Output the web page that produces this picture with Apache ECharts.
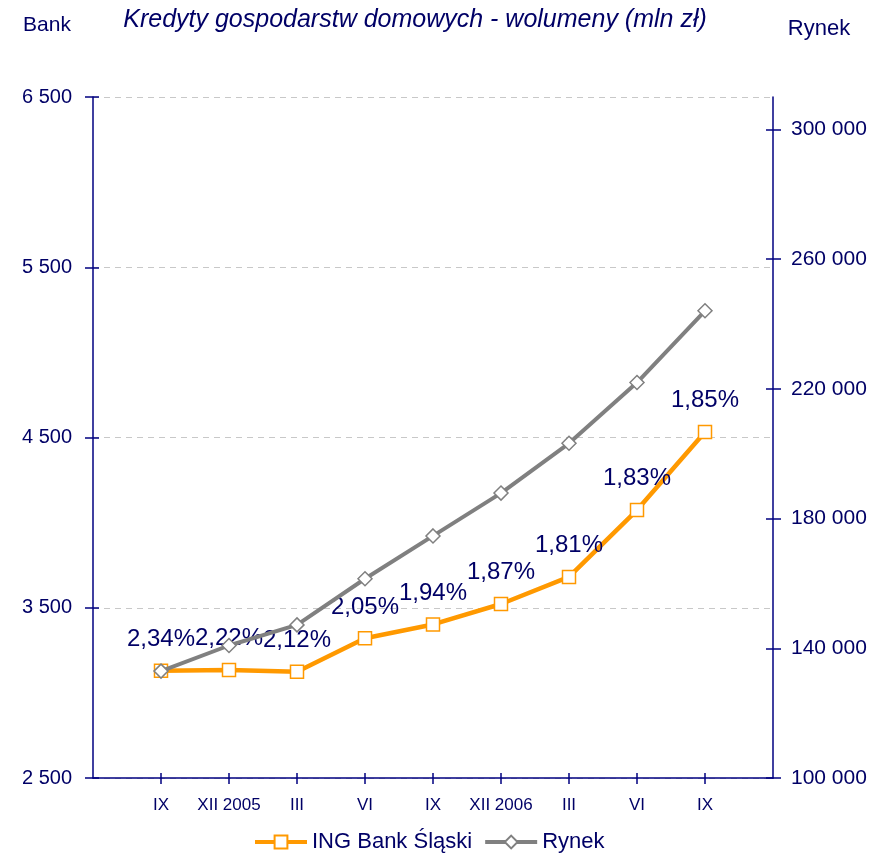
<!DOCTYPE html>
<html>
<head>
<meta charset="utf-8">
<script src="https://cdn.jsdelivr.net/npm/echarts@6/dist/echarts.min.js"></script>
<style>
  html, body { margin: 0; padding: 0; background: #ffffff; }
  #chart { width: 873px; height: 854px; }
</style>
</head>
<body>
<div id="chart"></div>
<script>
// Quarter labels; the blank ends leave half-step room at both axis edges
const periods = ['', 'IX', 'XII 2005', 'III', 'VI', 'IX', 'XII 2006', 'III', 'VI', 'IX', ''];
// Household loan volumes, mln zł
const bankVolume = [null, 3130, 3134, 3124, 3321, 3402, 3522, 3681, 4074, 4532, null];
const marketVolume = [null, 132960, 140860, 147210, 161440, 174650, 187860, 203220, 221960, 244080, null];
// Bank's market share, %
const bankShare = [null, 2.34, 2.22, 2.12, 2.05, 1.94, 1.87, 1.81, 1.83, 1.85, null];
// Axis tick values
const bankTicks = [2500, 3500, 4500, 5500, 6500];
const marketTicks = [100000, 140000, 180000, 220000, 260000, 300000];

const NAVY = '#000066';
const AXIS = '#000080';
const FONT = '"Liberation Sans", Arial, sans-serif';

const spaced = v => String(v).replace(/\B(?=(\d{3})+(?!\d))/g, ' ');
const pct = v => v.toFixed(2).replace('.', ',') + '%';
const isPeriod = (i, v) => v !== '';

const chart = echarts.init(document.getElementById('chart'), null, { renderer: 'canvas' });

const baseX = {
  type: 'category',
  position: 'bottom',
  data: periods,
  boundaryGap: false,
  axisLine: { show: true, lineStyle: { color: AXIS, width: 1.5 } },
  splitLine: { show: false }
};

chart.setOption({
  animation: false,
  backgroundColor: '#ffffff',
  textStyle: { fontFamily: FONT },
  grid: { left: 93, right: 100, top: 97, bottom: 76, containLabel: false },
  graphic: [
    { type: 'text', style: { x: 415, y: 20, text: 'Kredyty gospodarstw domowych - wolumeny (mln zł)',
      font: 'italic 25px ' + FONT, fill: NAVY, align: 'center', verticalAlign: 'middle' } },
    { type: 'text', style: { x: 47, y: 25, text: 'Bank', font: '21px ' + FONT, fill: NAVY,
      align: 'center', verticalAlign: 'middle' } },
    { type: 'text', style: { x: 819, y: 29, text: 'Rynek', font: '22px ' + FONT, fill: NAVY,
      align: 'center', verticalAlign: 'middle' } }
  ],
  legend: {
    top: 826,
    left: 248,
    itemWidth: 52,
    itemHeight: 16,
    itemGap: 11,
    lineStyle: { width: 4 },
    textStyle: { color: NAVY, fontSize: 22, fontFamily: FONT },
    data: ['ING Bank Śląski', 'Rynek']
  },
  xAxis: [
    Object.assign({}, baseX, {
      axisTick: { show: true, length: 6, interval: isPeriod, lineStyle: { color: AXIS, width: 1.5 } },
      axisLabel: { show: true, interval: isPeriod, color: NAVY, fontSize: 17, margin: 19, fontFamily: FONT }
    }),
    Object.assign({}, baseX, {
      axisLine: { show: false },
      axisTick: { show: true, inside: true, length: 5, interval: isPeriod, lineStyle: { color: AXIS, width: 1.5 } },
      axisLabel: { show: false }
    })
  ],
  yAxis: [
    {
      type: 'value', position: 'left', min: 2500, max: 6500, interval: 1000,
      axisLine: { show: true, lineStyle: { color: AXIS, width: 1.5 } },
      axisTick: { show: true, length: 8, lineStyle: { color: AXIS, width: 1.5 } },
      axisLabel: { color: NAVY, fontSize: 20, margin: 21, fontFamily: FONT,
        customValues: bankTicks, formatter: spaced },
      splitLine: { show: true, lineStyle: { color: '#c8c8c8', type: [6, 5], width: 1 } }
    },
    {
      type: 'value', position: 'right', min: 100000, max: 310000,
      axisLine: { show: true, lineStyle: { color: AXIS, width: 1.5 } },
      axisTick: { show: true, length: 8, customValues: marketTicks, lineStyle: { color: AXIS, width: 1.5 } },
      axisLabel: { color: NAVY, fontSize: 21, margin: 18, fontFamily: FONT,
        customValues: marketTicks, formatter: spaced },
      splitLine: { show: false }
    },
    {
      type: 'value', position: 'left', min: 2500, max: 6500, interval: 1000,
      axisLine: { show: false },
      axisTick: { show: true, inside: true, length: 6, lineStyle: { color: AXIS, width: 1.5 } },
      axisLabel: { show: false },
      splitLine: { show: false }
    },
    {
      type: 'value', position: 'right', min: 100000, max: 310000,
      axisLine: { show: false },
      axisTick: { show: true, inside: true, length: 7, customValues: marketTicks, lineStyle: { color: AXIS, width: 1.5 } },
      axisLabel: { show: false },
      splitLine: { show: false }
    }
  ],
  series: [
    {
      name: 'ING Bank Śląski',
      type: 'line',
      xAxisIndex: 0,
      yAxisIndex: 0,
      data: bankVolume,
      symbol: 'rect',
      symbolSize: 13,
      showAllSymbol: true,
      lineStyle: { color: '#FF9900', width: 4.5 },
      itemStyle: { color: '#ffffff', borderColor: '#FF9900', borderWidth: 1.5 },
      label: {
        show: true,
        position: 'top',
        distance: 12,
        color: NAVY,
        fontSize: 24,
        fontFamily: FONT,
        formatter: p => bankShare[p.dataIndex] == null ? '' : pct(bankShare[p.dataIndex])
      },
      z: 2
    },
    {
      name: 'Rynek',
      type: 'line',
      xAxisIndex: 0,
      yAxisIndex: 1,
      data: marketVolume,
      symbol: 'diamond',
      symbolSize: 14,
      showAllSymbol: true,
      lineStyle: { color: '#808080', width: 4 },
      itemStyle: { color: '#ffffff', borderColor: '#808080', borderWidth: 1.5 },
      z: 3
    }
  ]
});
</script>
</body>
</html>
